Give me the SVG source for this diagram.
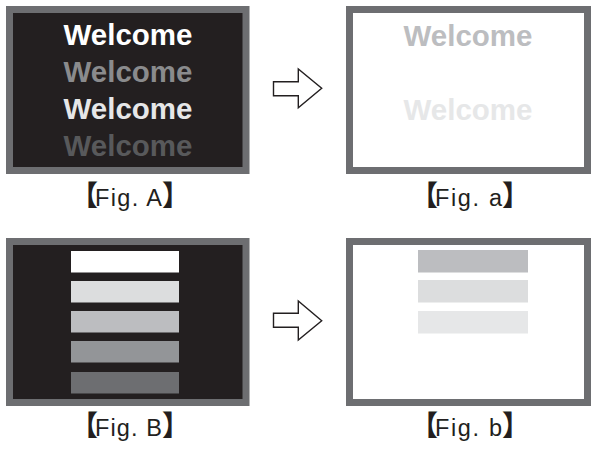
<svg xmlns="http://www.w3.org/2000/svg" width="593" height="451" viewBox="0 0 593 451">
<style>
.frame{stroke:#6d6e71;stroke-width:7}
.dark{fill:#231f20}
.light{fill:#ffffff}
.w{font-family:"Liberation Sans",Arial,sans-serif;font-weight:bold;font-size:29.5px;text-anchor:middle}
.lbl{font-family:"Liberation Sans",Arial,sans-serif;font-size:23.5px;fill:#231f20}
.br{font-family:"Noto Sans CJK JP",sans-serif;font-size:28px;font-weight:bold;fill:#231f20}
.arrow{fill:#ffffff;stroke:#231f20;stroke-width:1.4;stroke-linejoin:miter}
</style>
<rect width="593" height="451" fill="#ffffff"/>
<g id="figA">
<rect class="frame dark" x="9.5" y="9.5" width="236.5" height="161"/>
<text class="w" x="128" y="45" fill="#ffffff">Welcome</text>
<text class="w" x="128" y="82" fill="#8a8b8d">Welcome</text>
<text class="w" x="128" y="118.5" fill="#e6e7e8">Welcome</text>
<text class="w" x="128" y="155.5" fill="#58595b">Welcome</text>
</g>
<g id="figa">
<rect class="frame light" x="349.5" y="9.5" width="238" height="161"/>
<text class="w" x="468" y="45.5" fill="#bcbdc0">Welcome</text>
<text class="w" x="468" y="119.5" fill="#e6e7e8">Welcome</text>
</g>
<g id="figB">
<rect class="frame dark" x="9.5" y="241.5" width="236.5" height="161"/>
<rect x="71" y="251" width="108" height="21.5" fill="#ffffff"/>
<rect x="71" y="281" width="108" height="21.5" fill="#dcddde"/>
<rect x="71" y="311" width="108" height="21.5" fill="#bcbdc0"/>
<rect x="71" y="341" width="108" height="21.5" fill="#939598"/>
<rect x="71" y="372" width="108" height="21.5" fill="#6d6e71"/>
</g>
<g id="figb">
<rect class="frame light" x="349.5" y="241.5" width="238" height="161"/>
<rect x="418" y="250" width="110" height="22.5" fill="#bcbdc0"/>
<rect x="418" y="280" width="110" height="22.5" fill="#dcddde"/>
<rect x="418" y="311" width="110" height="22.5" fill="#e6e7e8"/>
</g>
<g id="connectors">
<path class="arrow" d="M273.5,81.7 H298.3 V69 L321.7,88.3 L298.3,107.7 V95.7 H273.5 Z"/>
<path class="arrow" d="M273.5,313.3 H298.3 V301 L321.7,320.7 L298.3,340 V327.3 H273.5 Z"/>
</g>
<g id="labelA"><text class="lbl" y="206"><tspan class="br" x="70">【</tspan><tspan x="95" textLength="67" lengthAdjust="spacing">Fig. A</tspan><tspan class="br" x="162">】</tspan></text></g>
<g id="labela"><text class="lbl" y="206"><tspan class="br" x="410">【</tspan><tspan x="435" textLength="67" lengthAdjust="spacing">Fig. a</tspan><tspan class="br" x="502">】</tspan></text></g>
<g id="labelB"><text class="lbl" y="436"><tspan class="br" x="70">【</tspan><tspan x="95" textLength="67" lengthAdjust="spacing">Fig. B</tspan><tspan class="br" x="162">】</tspan></text></g>
<g id="labelb"><text class="lbl" y="436"><tspan class="br" x="410">【</tspan><tspan x="435" textLength="67" lengthAdjust="spacing">Fig. b</tspan><tspan class="br" x="502">】</tspan></text></g>
</svg>
